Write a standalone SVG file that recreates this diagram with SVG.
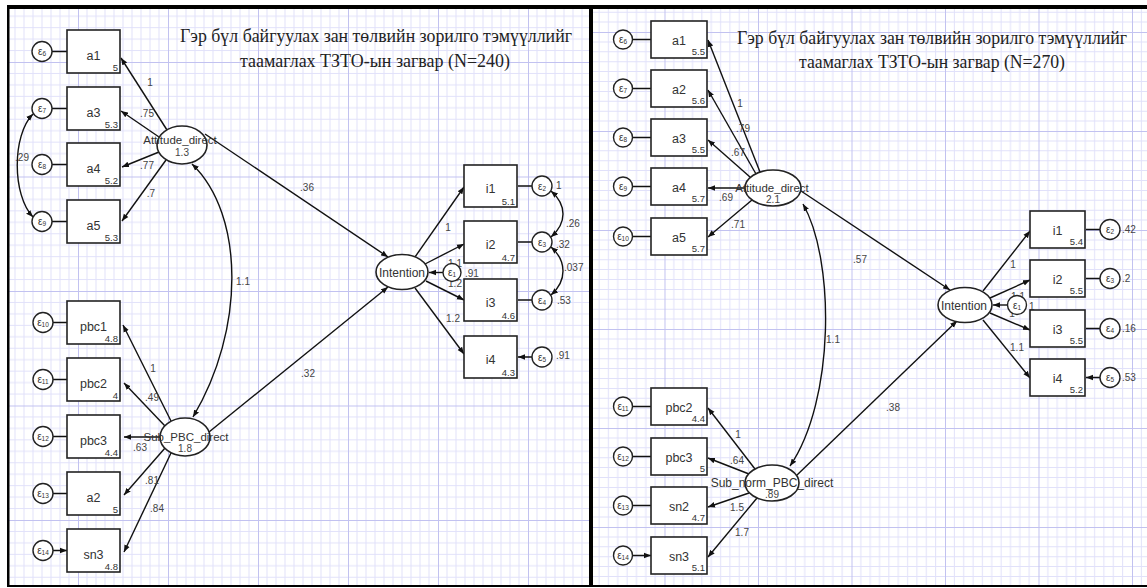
<svg xmlns="http://www.w3.org/2000/svg" width="1147" height="588" viewBox="0 0 1147 588">
<style>
.ln{stroke:#111;stroke-width:1.4;fill:none}
.arr{marker-end:url(#ah)}
.cov{marker-start:url(#ah);marker-end:url(#ah)}
.box{fill:#fff;stroke:#222;stroke-width:1.6}
.lat{fill:#fff;stroke:#222;stroke-width:1.6}
.err{fill:#fff;stroke:#222;stroke-width:1.4}
text{font-family:"Liberation Sans",Arial,sans-serif}
.nm{font-size:12.5px;fill:#333;text-anchor:middle}
.ln-t{font-size:11.5px}
.mn{font-size:9.5px;fill:#333;text-anchor:end}
.pl{font-size:10px;fill:#444;text-anchor:middle}
.pv{font-size:10px;fill:#444;text-anchor:start}
.e{font-size:10px;fill:#333;text-anchor:middle}
.s{font-size:6.5px}
.ttl{font-family:"Liberation Serif","Times New Roman",serif;font-size:18.5px;fill:#222;text-anchor:middle}
.gmin{stroke:#e1e1fa;stroke-width:1;fill:none}
.gmaj{stroke:#c2c2f0;stroke-width:1;fill:none}
</style>
<defs>
<marker id="ah" viewBox="0 0 10 10" refX="10" refY="5" markerWidth="7" markerHeight="7" markerUnits="userSpaceOnUse" orient="auto-start-reverse">
<path d="M0,1 L10,5 L0,9 z" fill="#111"/>
</marker>
<pattern id="gL" patternUnits="userSpaceOnUse" x="78" y="62" width="90" height="114.5">
<path class="gmin" d="M9,0V114.5M18,0V114.5M27,0V114.5M36,0V114.5M45,0V114.5M54,0V114.5M63,0V114.5M72,0V114.5M81,0V114.5M0,11.45H90M0,22.9H90M0,34.35H90M0,45.8H90M0,57.25H90M0,68.7H90M0,80.15H90M0,91.6H90M0,103.05H90"/>
<path class="gmaj" d="M0.5,0V114.5M0,0.5H90"/>
</pattern>
<pattern id="gR" patternUnits="userSpaceOnUse" x="664.5" y="32" width="93.5" height="99">
<path class="gmin" d="M9.35,0V99M18.7,0V99M28.05,0V99M37.4,0V99M46.75,0V99M56.1,0V99M65.45,0V99M74.8,0V99M84.15,0V99M0,9.9H93.5M0,19.8H93.5M0,29.7H93.5M0,39.6H93.5M0,49.5H93.5M0,59.4H93.5M0,69.3H93.5M0,79.2H93.5M0,89.1H93.5"/>
<path class="gmaj" d="M0.5,0V99M0,0.5H93.5"/>
</pattern>
</defs>

<!-- background and panel frames -->
<rect width="1147" height="588" fill="#fff"/>
<rect x="9" y="9" width="580" height="576" fill="url(#gL)"/>
<rect x="593" y="9" width="554" height="576" fill="url(#gR)"/>
<g id="frame" fill="#000">
<rect x="7" y="5" width="1140" height="4"/>
<rect x="7" y="5" width="2.5" height="582"/>
<rect x="589" y="5" width="4" height="582"/>
<rect x="7" y="585" width="1140" height="2"/>
</g>

<!-- titles -->
<g id="title-left">
<text class="ttl" x="376" y="42" textLength="392" lengthAdjust="spacingAndGlyphs">Гэр бүл байгуулах зан төлвийн зорилго тэмүүллийг</text>
<text class="ttl" x="375" y="67" textLength="270" lengthAdjust="spacingAndGlyphs">таамаглах ТЗТО-ын загвар (N=240)</text>
</g>
<g id="title-right">
<text class="ttl" x="932" y="44" textLength="390" lengthAdjust="spacingAndGlyphs">Гэр бүл байгуулах зан төлвийн зорилго тэмүүллийг</text>
<text class="ttl" x="932" y="68" textLength="266" lengthAdjust="spacingAndGlyphs">таамаглах ТЗТО-ын загвар (N=270)</text>
</g>

<g id="connectors">
<!-- left model: error terms -->
<path class="ln arr" d="M52,51.5H67M52,108.5H67M52,164.5H67M52,221.5H67M53,322.5H67M53,379.5H67M53,436.5H67M53,493.5H67M53,550.5H67"/>
<path class="ln arr" d="M532,186H518M532,242H518M532,300H518M532,357H518"/>
<path class="ln arr" d="M443,272.5H429"/>
<!-- left model: loadings -->
<path class="ln arr" d="M167,130L121,58"/>
<path class="ln arr" d="M159,137L121,111"/>
<path class="ln arr" d="M159,152L122,167"/>
<path class="ln arr" d="M166,160L122,221"/>
<path class="ln arr" d="M171,421L123,325"/>
<path class="ln arr" d="M165,426L124,383"/>
<path class="ln arr" d="M160,437L124,437"/>
<path class="ln arr" d="M165,448L124,495"/>
<path class="ln arr" d="M171,453L124,552"/>
<path class="ln arr" d="M415,257L464,187"/>
<path class="ln arr" d="M425,264L464,244"/>
<path class="ln arr" d="M426,281L464,300"/>
<path class="ln arr" d="M415,288L464,354"/>
<!-- left model: structural paths -->
<path class="ln arr" d="M205,134L388,257"/>
<path class="ln arr" d="M209,432L388,287"/>
<!-- left model: covariances -->
<path class="ln cov" d="M192,164C245,215 245,330 193,417"/>
<path class="ln cov" d="M33,114C12,135 12,195 33,217"/>
<path class="ln cov" d="M551,191C567,205 567,223 551,237"/>
<path class="ln cov" d="M551,247C567,261 567,281 551,295"/>

<!-- right model: error terms -->
<path class="ln arr" d="M633,39.5H651M633,88.5H651M633,137.5H651M633,186.5H651M633,236.5H651M633,406.5H651M633,456.5H651M633,505.5H651M633,555.5H651"/>
<path class="ln arr" d="M1100,229.5H1086M1100,278.5H1086M1100,328.5H1086M1100,377.5H1086"/>
<path class="ln arr" d="M1007.5,305H993"/>
<!-- right model: loadings -->
<path class="ln arr" d="M760,172L708,40"/>
<path class="ln arr" d="M756,174L708,90"/>
<path class="ln arr" d="M750,177L708,140"/>
<path class="ln arr" d="M745,188L708,188"/>
<path class="ln arr" d="M752,200L708,237"/>
<path class="ln arr" d="M755,469L708,408"/>
<path class="ln arr" d="M749,474L708,458"/>
<path class="ln arr" d="M749,493L708,507"/>
<path class="ln arr" d="M757,498L708,557"/>
<path class="ln arr" d="M983,291L1030,231"/>
<path class="ln arr" d="M990,298L1030,280"/>
<path class="ln arr" d="M990,313L1030,330"/>
<path class="ln arr" d="M983,320L1030,378"/>
<!-- right model: structural paths -->
<path class="ln arr" d="M801,191L950,290"/>
<path class="ln arr" d="M797,475L957,321"/>
<!-- right model: covariance -->
<path class="ln cov" d="M803,204C835,260 835,400 790,466"/>

<!-- path coefficients, left -->
<text class="pl" x="150" y="85.5">1</text>
<text class="pl" x="147" y="116.5">.75</text>
<text class="pl" x="147" y="168.5">.77</text>
<text class="pl" x="151" y="197">.7</text>
<text class="pl" x="153" y="371.5">1</text>
<text class="pl" x="152" y="400.5">.49</text>
<text class="pl" x="140" y="450.5">.63</text>
<text class="pl" x="152" y="483.5">.81</text>
<text class="pl" x="157" y="511.5">.84</text>
<text class="pl" x="22" y="160.5">.29</text>
<text class="pl" x="243" y="284.5">1.1</text>
<text class="pl" x="307" y="190.5">.36</text>
<text class="pl" x="308" y="376.5">.32</text>
<text class="pl" x="448" y="230.5">1</text>
<text class="pl" x="455" y="266.5">1.1</text>
<text class="pl" x="455" y="287">1.2</text>
<text class="pl" x="453" y="321.5">1.2</text>
<text class="pv" x="465" y="276.5">.91</text>
<text class="pv" x="556" y="189">1</text>
<text class="pv" x="556" y="247.5">.32</text>
<text class="pv" x="557" y="303.5">.53</text>
<text class="pv" x="556" y="359">.91</text>
<text class="pv" x="566" y="227">.26</text>
<text class="pv" x="564" y="271">.037</text>

<!-- path coefficients, right -->
<text class="pl" x="740" y="106.5">1</text>
<text class="pl" x="743" y="131.5">.79</text>
<text class="pl" x="738" y="155.5">.67</text>
<text class="pl" x="726" y="200.5">.69</text>
<text class="pl" x="738" y="227.5">.71</text>
<text class="pl" x="738" y="437.5">1</text>
<text class="pl" x="737" y="463.5">.64</text>
<text class="pl" x="737" y="510.5">1.5</text>
<text class="pl" x="742" y="535.5">1.7</text>
<text class="pl" x="833" y="342.5">1.1</text>
<text class="pl" x="860" y="262.5">.57</text>
<text class="pl" x="893" y="410.5">.38</text>
<text class="pl" x="1013" y="267.5">1</text>
<text class="pl" x="1018" y="299.5">1.1</text>
<text class="pl" x="1012" y="317">1</text>
<text class="pl" x="1017" y="350.5">1.1</text>
<text class="pv" x="1029" y="309.5">1</text>
<text class="pv" x="1122" y="233">.42</text>
<text class="pv" x="1122" y="282">.2</text>
<text class="pv" x="1122" y="332">.16</text>
<text class="pv" x="1122" y="381">.53</text>
</g>

<!-- ===== left model nodes ===== -->
<g id="L-a1"><rect class="box" x="67" y="30" width="53" height="43"/><text class="nm" x="93.5" y="59.5">a1</text><text class="mn" x="118" y="70.5">5</text></g>
<g id="L-a3"><rect class="box" x="67" y="87" width="53" height="43"/><text class="nm" x="93.5" y="116.5">a3</text><text class="mn" x="118" y="127.5">5.3</text></g>
<g id="L-a4"><rect class="box" x="67" y="143" width="53" height="43"/><text class="nm" x="93.5" y="172.5">a4</text><text class="mn" x="118" y="183.5">5.2</text></g>
<g id="L-a5"><rect class="box" x="67" y="200" width="53" height="43"/><text class="nm" x="93.5" y="229.5">a5</text><text class="mn" x="118" y="240.5">5.3</text></g>
<g id="L-pbc1"><rect class="box" x="67" y="301" width="53" height="43"/><text class="nm" x="93.5" y="330.5">pbc1</text><text class="mn" x="118" y="341.5">4.8</text></g>
<g id="L-pbc2"><rect class="box" x="67" y="358" width="53" height="43"/><text class="nm" x="93.5" y="387.5">pbc2</text><text class="mn" x="118" y="398.5">4</text></g>
<g id="L-pbc3"><rect class="box" x="67" y="415" width="53" height="43"/><text class="nm" x="93.5" y="444.5">pbc3</text><text class="mn" x="118" y="455.5">4.4</text></g>
<g id="L-a2"><rect class="box" x="67" y="472" width="53" height="43"/><text class="nm" x="93.5" y="501.5">a2</text><text class="mn" x="118" y="512.5">5</text></g>
<g id="L-sn3"><rect class="box" x="67" y="529" width="53" height="43"/><text class="nm" x="93.5" y="558.5">sn3</text><text class="mn" x="118" y="569.5">4.8</text></g>

<g id="L-e6"><circle class="err" cx="42" cy="51.5" r="10"/><text class="e" x="42" y="55">ε<tspan class="s" dy="1">6</tspan></text></g>
<g id="L-e7"><circle class="err" cx="42" cy="108.5" r="10"/><text class="e" x="42" y="112">ε<tspan class="s" dy="1">7</tspan></text></g>
<g id="L-e8"><circle class="err" cx="42" cy="164.5" r="10"/><text class="e" x="42" y="168">ε<tspan class="s" dy="1">8</tspan></text></g>
<g id="L-e9"><circle class="err" cx="42" cy="221.5" r="10"/><text class="e" x="42" y="225">ε<tspan class="s" dy="1">9</tspan></text></g>
<g id="L-e10"><circle class="err" cx="43" cy="322.5" r="10"/><text class="e" x="43" y="326">ε<tspan class="s" dy="1">10</tspan></text></g>
<g id="L-e11"><circle class="err" cx="43" cy="379.5" r="10"/><text class="e" x="43" y="383">ε<tspan class="s" dy="1">11</tspan></text></g>
<g id="L-e12"><circle class="err" cx="43" cy="436.5" r="10"/><text class="e" x="43" y="440">ε<tspan class="s" dy="1">12</tspan></text></g>
<g id="L-e13"><circle class="err" cx="43" cy="493.5" r="10"/><text class="e" x="43" y="497">ε<tspan class="s" dy="1">13</tspan></text></g>
<g id="L-e14"><circle class="err" cx="43" cy="550.5" r="10"/><text class="e" x="43" y="554">ε<tspan class="s" dy="1">14</tspan></text></g>

<g id="L-attitude"><ellipse class="lat" cx="182" cy="145" rx="25" ry="19"/><text class="nm ln-t" x="180" y="144">Attitude_direct</text><text class="pl" x="182" y="156">1.3</text></g>
<g id="L-subpbc"><ellipse class="lat" cx="185" cy="437" rx="25" ry="19"/><text class="nm ln-t" x="186" y="441">Sub_PBC_direct</text><text class="pl" x="185" y="452">1.8</text></g>
<g id="L-intention"><ellipse class="lat" cx="402" cy="272" rx="26" ry="17.5"/><text class="nm" x="402" y="276.5" style="font-size:12px">Intention</text></g>
<g id="L-e1"><circle class="err" cx="452" cy="272.5" r="9"/><text class="e" x="452" y="276">ε<tspan class="s" dy="1">1</tspan></text></g>

<g id="L-i1"><rect class="box" x="464" y="165" width="53" height="42"/><text class="nm" x="490.5" y="193">i1</text><text class="mn" x="515" y="204.5">5.1</text></g>
<g id="L-i2"><rect class="box" x="464" y="221" width="53" height="42"/><text class="nm" x="490.5" y="249">i2</text><text class="mn" x="515" y="260.5">4.7</text></g>
<g id="L-i3"><rect class="box" x="464" y="279" width="53" height="42"/><text class="nm" x="490.5" y="307">i3</text><text class="mn" x="515" y="318.5">4.6</text></g>
<g id="L-i4"><rect class="box" x="464" y="336" width="53" height="42"/><text class="nm" x="490.5" y="364">i4</text><text class="mn" x="515" y="375.5">4.3</text></g>
<g id="L-e2"><circle class="err" cx="542" cy="186" r="10"/><text class="e" x="542" y="189.5">ε<tspan class="s" dy="1">2</tspan></text></g>
<g id="L-e3"><circle class="err" cx="542" cy="242" r="10"/><text class="e" x="542" y="245.5">ε<tspan class="s" dy="1">3</tspan></text></g>
<g id="L-e4"><circle class="err" cx="542" cy="300" r="10"/><text class="e" x="542" y="303.5">ε<tspan class="s" dy="1">4</tspan></text></g>
<g id="L-e5"><circle class="err" cx="542" cy="357" r="10"/><text class="e" x="542" y="360.5">ε<tspan class="s" dy="1">5</tspan></text></g>

<!-- ===== right model nodes ===== -->
<g id="R-a1"><rect class="box" x="651" y="21" width="56" height="37"/><text class="nm" x="679" y="44.5">a1</text><text class="mn" x="705" y="55">5.5</text></g>
<g id="R-a2"><rect class="box" x="651" y="70" width="56" height="37"/><text class="nm" x="679" y="93.5">a2</text><text class="mn" x="705" y="104">5.6</text></g>
<g id="R-a3"><rect class="box" x="651" y="119" width="56" height="37"/><text class="nm" x="679" y="142.5">a3</text><text class="mn" x="705" y="153">5.5</text></g>
<g id="R-a4"><rect class="box" x="651" y="168" width="56" height="37"/><text class="nm" x="679" y="191.5">a4</text><text class="mn" x="705" y="202">5.7</text></g>
<g id="R-a5"><rect class="box" x="651" y="218" width="56" height="37"/><text class="nm" x="679" y="241.5">a5</text><text class="mn" x="705" y="252">5.7</text></g>
<g id="R-pbc2"><rect class="box" x="651" y="388" width="56" height="37"/><text class="nm" x="679" y="411.5">pbc2</text><text class="mn" x="705" y="422">4.4</text></g>
<g id="R-pbc3"><rect class="box" x="651" y="438" width="56" height="37"/><text class="nm" x="679" y="461.5">pbc3</text><text class="mn" x="705" y="472">5</text></g>
<g id="R-sn2"><rect class="box" x="651" y="487" width="56" height="37"/><text class="nm" x="679" y="510.5">sn2</text><text class="mn" x="705" y="521">4.7</text></g>
<g id="R-sn3"><rect class="box" x="651" y="537" width="56" height="37"/><text class="nm" x="679" y="560.5">sn3</text><text class="mn" x="705" y="571">5.1</text></g>

<g id="R-e6"><circle class="err" cx="623" cy="39.5" r="9.5"/><text class="e" x="623" y="43">ε<tspan class="s" dy="1">6</tspan></text></g>
<g id="R-e7"><circle class="err" cx="623" cy="88.5" r="9.5"/><text class="e" x="623" y="92">ε<tspan class="s" dy="1">7</tspan></text></g>
<g id="R-e8"><circle class="err" cx="623" cy="137.5" r="9.5"/><text class="e" x="623" y="141">ε<tspan class="s" dy="1">8</tspan></text></g>
<g id="R-e9"><circle class="err" cx="623" cy="186.5" r="9.5"/><text class="e" x="623" y="190">ε<tspan class="s" dy="1">9</tspan></text></g>
<g id="R-e10"><circle class="err" cx="623" cy="236.5" r="9.5"/><text class="e" x="623" y="240">ε<tspan class="s" dy="1">10</tspan></text></g>
<g id="R-e11"><circle class="err" cx="623" cy="406.5" r="9.5"/><text class="e" x="623" y="410">ε<tspan class="s" dy="1">11</tspan></text></g>
<g id="R-e12"><circle class="err" cx="623" cy="456.5" r="9.5"/><text class="e" x="623" y="460">ε<tspan class="s" dy="1">12</tspan></text></g>
<g id="R-e13"><circle class="err" cx="623" cy="505.5" r="9.5"/><text class="e" x="623" y="509">ε<tspan class="s" dy="1">13</tspan></text></g>
<g id="R-e14"><circle class="err" cx="623" cy="555.5" r="9.5"/><text class="e" x="623" y="559">ε<tspan class="s" dy="1">14</tspan></text></g>

<g id="R-attitude"><ellipse class="lat" cx="773" cy="188" rx="28" ry="18"/><text class="nm ln-t" x="772" y="192">Attitude_direct</text><text class="pl" x="773" y="203">2.1</text></g>
<g id="R-subnorm"><ellipse class="lat" cx="772" cy="483" rx="27" ry="18"/><text class="nm" x="772" y="487" style="font-size:12px">Sub_norm_PBC_direct</text><text class="pl" x="772" y="498">.89</text></g>
<g id="R-intention"><ellipse class="lat" cx="965" cy="305" rx="27" ry="17.5"/><text class="nm" x="964" y="309.5" style="font-size:12px">Intention</text></g>
<g id="R-e1"><circle class="err" cx="1017" cy="305" r="9.5"/><text class="e" x="1017" y="308.5">ε<tspan class="s" dy="1">1</tspan></text></g>

<g id="R-i1"><rect class="box" x="1030" y="211" width="55" height="37"/><text class="nm" x="1057.5" y="234.5">i1</text><text class="mn" x="1083" y="245">5.4</text></g>
<g id="R-i2"><rect class="box" x="1030" y="260" width="55" height="37"/><text class="nm" x="1057.5" y="283.5">i2</text><text class="mn" x="1083" y="294">5.5</text></g>
<g id="R-i3"><rect class="box" x="1030" y="310" width="55" height="37"/><text class="nm" x="1057.5" y="333.5">i3</text><text class="mn" x="1083" y="344">5.5</text></g>
<g id="R-i4"><rect class="box" x="1030" y="359" width="55" height="37"/><text class="nm" x="1057.5" y="382.5">i4</text><text class="mn" x="1083" y="393">5.2</text></g>
<g id="R-e2"><circle class="err" cx="1110" cy="229.5" r="10"/><text class="e" x="1110" y="233">ε<tspan class="s" dy="1">2</tspan></text></g>
<g id="R-e3"><circle class="err" cx="1110" cy="278.5" r="10"/><text class="e" x="1110" y="282">ε<tspan class="s" dy="1">3</tspan></text></g>
<g id="R-e4"><circle class="err" cx="1110" cy="328.5" r="10"/><text class="e" x="1110" y="332">ε<tspan class="s" dy="1">4</tspan></text></g>
<g id="R-e5"><circle class="err" cx="1110" cy="377.5" r="10"/><text class="e" x="1110" y="381">ε<tspan class="s" dy="1">5</tspan></text></g>
</svg>
